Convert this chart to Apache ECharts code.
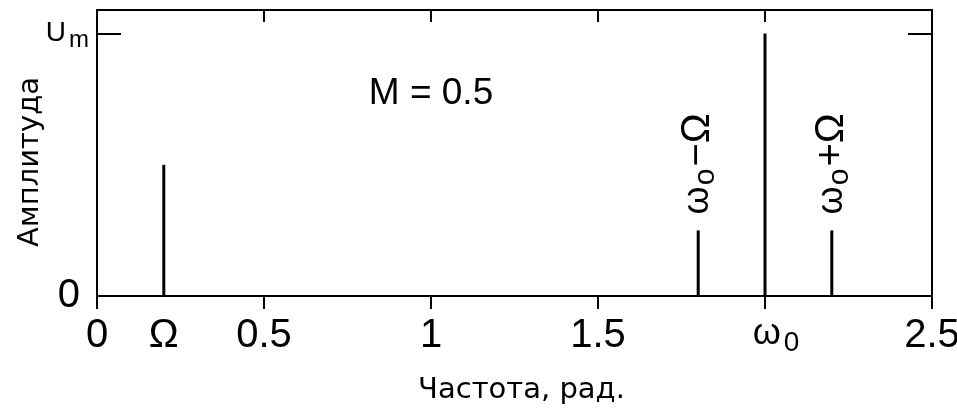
<!DOCTYPE html>
<html><head><meta charset="utf-8">
<script src="https://cdn.jsdelivr.net/npm/echarts@6/dist/echarts.min.js"></script>
<style>html,body{margin:0;padding:0;background:#fff}#c{width:957px;height:408px}</style>
</head><body><div id="c"></div>
<script>
// data
var freqs = [0.2, 1.8, 2.0, 2.2];
var amps = [0.5, 0.25, 1.0, 0.25];
var lineLabels = ['', '{w|ω}{s|o}{t|−Ω}', '', '{w|ω}{s|o}{t|+Ω}'];
var xTicks = [0, 0.5, 1, 1.5, 2, 2.5];
var xLabelValues = [0, 0.2, 0.5, 1, 1.5, 2, 2.5];
var xLabelTexts = ['0', 'Ω', '0.5', '1', '1.5', '{w|ω}{s|0}', '2.5'];
var yTicks = [0, 1];
var yLabelTexts = ['{z|0}', '{u|U}{m|m}'];
var annotX = [1.0];
var annotY = [0.77];
var annotText = ['M = 0.5'];
var xName = 'Частота, рад.';
var yName = 'Амплитуда';

var tickFont = '"Liberation Sans", Arial, sans-serif';
var nameFont = '"DejaVu Sans", sans-serif';
var chart = echarts.init(document.getElementById('c'));
var lineData = freqs.map(function (f, i) { return { value: [f, amps[i]], label: { show: !!lineLabels[i], formatter: lineLabels[i] } }; });
chart.setOption({
  animation: false,
  backgroundColor: '#fff',
  grid: { left: 97, right: 25, top: 10, bottom: 112, containLabel: false, outerBoundsMode: 'none' },
  xAxis: [{
    type: 'value', min: 0, max: 2.5, position: 'bottom',
    name: xName, nameLocation: 'middle', nameGap: 80, nameMoveOverlap: false,
    nameTextStyle: { fontFamily: nameFont, fontSize: 29, color: '#000', padding: [0, 0, 0, 14] },
    axisLine: { onZero: false, lineStyle: { color: '#000', width: 2 } },
    splitLine: { show: false },
    axisTick: { show: true, inside: false, length: 13, customValues: xTicks, lineStyle: { color: '#000', width: 2 } },
    axisLabel: {
      customValues: xLabelValues, margin: 20, color: '#000', fontFamily: tickFont, fontSize: 40,
      formatter: function (v) { var i = xLabelValues.indexOf(v); return i >= 0 ? xLabelTexts[i] : ''; },
      rich: {
        w: { fontFamily: tickFont, fontSize: 36, color: '#000', verticalAlign: 'top', lineHeight: 20, padding: [0, 0, 0, 22] },
        s: { fontFamily: tickFont, fontSize: 28, color: '#000', verticalAlign: 'top', lineHeight: 28, padding: [13, 0, 0, 3] }
      }
    }
  }, {
    type: 'value', min: 0, max: 2.5, position: 'top',
    axisLine: { onZero: false, lineStyle: { color: '#000', width: 2 } },
    splitLine: { show: false },
    axisTick: { show: true, inside: true, length: 12, customValues: xTicks, lineStyle: { color: '#000', width: 2 } },
    axisLabel: { show: false }
  }],
  yAxis: [{
    type: 'value', min: 0, max: 1.09, position: 'left',
    name: yName, nameLocation: 'middle', nameGap: 52, nameRotate: 90, nameMoveOverlap: false,
    nameTextStyle: { fontFamily: nameFont, fontSize: 29, color: '#000', padding: [0, 18, 0, 0] },
    axisLine: { show: true, onZero: false, lineStyle: { color: '#000', width: 2 } },
    splitLine: { show: false },
    axisTick: { show: true, inside: true, length: 24, customValues: yTicks, lineStyle: { color: '#000', width: 2 } },
    axisLabel: {
      customValues: yTicks, margin: 8, color: '#000', fontFamily: tickFont, fontSize: 40,
      formatter: function (v) { var i = yTicks.indexOf(v); return i >= 0 ? yLabelTexts[i] : ''; },
      rich: {
        z: { fontFamily: tickFont, fontSize: 40, color: '#000', padding: [0, 9, 0, 0] },
        u: { fontFamily: tickFont, fontSize: 28, color: '#000' },
        m: { fontFamily: tickFont, fontSize: 24, color: '#000', padding: [14, 0, 0, 3] }
      }
    }
  }, {
    type: 'value', min: 0, max: 1.09, position: 'right',
    axisLine: { show: true, onZero: false, lineStyle: { color: '#000', width: 2 } },
    splitLine: { show: false },
    axisTick: { show: true, inside: true, length: 24, customValues: yTicks, lineStyle: { color: '#000', width: 2 } },
    axisLabel: { show: false }
  }],
  series: [{
    type: 'bar', xAxisIndex: 0, yAxisIndex: 0, barWidth: 3,
    itemStyle: { color: '#000' },
    data: lineData,
    label: {
      position: 'top', rotate: 90, distance: 16, align: 'left', verticalAlign: 'middle',
      color: '#000', fontFamily: tickFont, fontSize: 38,
      rich: {
        w: { fontFamily: tickFont, fontSize: 36, color: '#000' },
        s: { fontFamily: tickFont, fontSize: 30, color: '#000', padding: [16, 0, 0, 1] },
        t: { fontFamily: tickFont, fontSize: 40, color: '#000', padding: [0, 0, 0, 2] }
      }
    }
  }, {
    type: 'scatter', xAxisIndex: 0, yAxisIndex: 0, symbolSize: 0,
    itemStyle: { opacity: 1 },
    emphasis: { disabled: true },
    data: annotX.map(function (x, i) { return [x, annotY[i]]; }),
    label: {
      show: true, position: 'inside', color: '#000', fontFamily: tickFont, fontSize: 37,
      formatter: function (p) { return annotText[p.dataIndex]; }
    }
  }]
});
</script></body></html>
